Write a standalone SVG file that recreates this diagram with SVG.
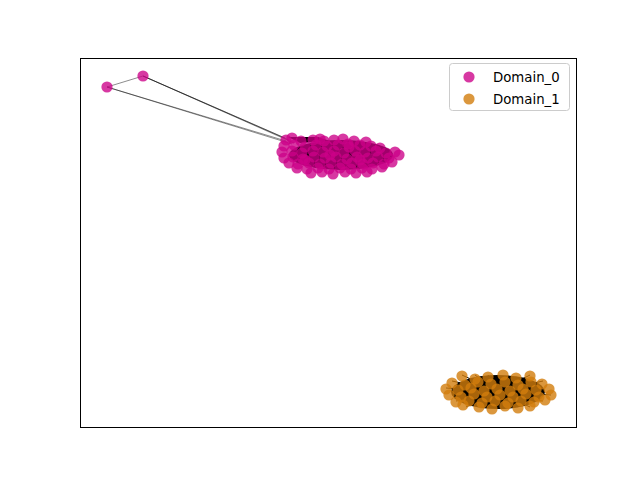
<svg xmlns="http://www.w3.org/2000/svg" xmlns:xlink="http://www.w3.org/1999/xlink" width="640" height="480" viewBox="0 0 640 480">
<style>
.d0{fill:#cc0088;fill-opacity:0.78}
.d1{fill:#d27d0c;fill-opacity:0.8}
.e{stroke:#000;stroke-opacity:0.45;stroke-width:1;fill:none}
.ed{stroke:#000;stroke-width:1;fill:none}
.t{font-family:"DejaVu Sans",sans-serif;font-size:13.3px;fill:#000}
</style>
<defs>
<circle id="a" r="5.6" class="d0"/>
<circle id="b" r="5.6" class="d1"/>
</defs>
<rect x="0" y="0" width="640" height="480" fill="#fff"/>
<g id="connectors">
<line class="e" x1="107" y1="87" x2="143" y2="76"/>
<line class="e" x1="107" y1="87" x2="286" y2="141"/>
<line class="e" x1="107" y1="87" x2="292" y2="144"/>
<line class="e" x1="143" y1="76" x2="285" y2="138"/>
<line class="e" x1="143" y1="76" x2="289" y2="140"/>
<line class="e" x1="143" y1="76" x2="294" y2="143"/>
<polygon points="288,137 318,137 330,141 300,143" fill="#000"/>
<ellipse cx="341" cy="155" rx="52" ry="15" fill="#000"/>
<ellipse cx="498" cy="392" rx="47" ry="17" fill="#000"/>
<path class="ed" d="M452 381L543 401M446 388L551 395M462 375L530 407M475 375L518 407M488 375L505 407M456 401L543 381M466 407L530 375"/>
</g>
<g id="domain0">
<use id="n0" href="#a" x="107" y="87"/>
<use id="n1" href="#a" x="143" y="76"/>
<use href="#a" x="286" y="140"/><use href="#a" x="292" y="138"/>
<use href="#a" x="301" y="141"/><use href="#a" x="313" y="140"/><use href="#a" x="324" y="141"/><use href="#a" x="334" y="140"/><use href="#a" x="343" y="139"/><use href="#a" x="354" y="141"/><use href="#a" x="366" y="142"/>
<use href="#a" x="284" y="146"/><use href="#a" x="294" y="145"/><use href="#a" x="305" y="147"/><use href="#a" x="316" y="145"/><use href="#a" x="327" y="146"/><use href="#a" x="338" y="145"/><use href="#a" x="349" y="147"/><use href="#a" x="360" y="145"/><use href="#a" x="371" y="146"/><use href="#a" x="380" y="148"/>
<use href="#a" x="282" y="152"/><use href="#a" x="292" y="151"/><use href="#a" x="302" y="153"/><use href="#a" x="313" y="151"/><use href="#a" x="323" y="152"/><use href="#a" x="334" y="151"/><use href="#a" x="344" y="153"/><use href="#a" x="355" y="151"/><use href="#a" x="365" y="152"/><use href="#a" x="376" y="151"/><use href="#a" x="386" y="153"/><use href="#a" x="395" y="152"/>
<use href="#a" x="284" y="158"/><use href="#a" x="293" y="157"/><use href="#a" x="303" y="159"/><use href="#a" x="314" y="157"/><use href="#a" x="325" y="158"/><use href="#a" x="336" y="157"/><use href="#a" x="347" y="159"/><use href="#a" x="357" y="157"/><use href="#a" x="368" y="158"/><use href="#a" x="378" y="157"/><use href="#a" x="389" y="158"/><use href="#a" x="399" y="155"/>
<use href="#a" x="289" y="163"/><use href="#a" x="298" y="164"/><use href="#a" x="309" y="163"/><use href="#a" x="320" y="164"/><use href="#a" x="331" y="163"/><use href="#a" x="342" y="164"/><use href="#a" x="352" y="163"/><use href="#a" x="363" y="164"/><use href="#a" x="373" y="163"/><use href="#a" x="384" y="164"/><use href="#a" x="392" y="162"/>
<use href="#a" x="297" y="168"/><use href="#a" x="307" y="169"/><use href="#a" x="318" y="168"/><use href="#a" x="329" y="169"/><use href="#a" x="340" y="168"/><use href="#a" x="351" y="169"/><use href="#a" x="362" y="168"/><use href="#a" x="372" y="169"/><use href="#a" x="382" y="167"/>
<use href="#a" x="311" y="173"/><use href="#a" x="322" y="172"/><use href="#a" x="333" y="174"/><use href="#a" x="345" y="172"/><use href="#a" x="356" y="173"/><use href="#a" x="367" y="172"/>
<use href="#a" x="320" y="139"/><use href="#a" x="348" y="144"/><use href="#a" x="330" y="155"/><use href="#a" x="360" y="160"/><use href="#a" x="305" y="160"/>
</g>
<g id="domain1">
<use href="#b" x="462" y="376"/><use href="#b" x="475" y="379"/><use href="#b" x="488" y="377"/><use href="#b" x="503" y="375"/><use href="#b" x="516" y="378"/><use href="#b" x="530" y="376"/>
<use href="#b" x="452" y="383"/><use href="#b" x="465" y="385"/><use href="#b" x="478" y="382"/><use href="#b" x="491" y="384"/><use href="#b" x="505" y="382"/><use href="#b" x="518" y="385"/><use href="#b" x="531" y="382"/><use href="#b" x="542" y="384"/>
<use href="#b" x="446" y="389"/><use href="#b" x="458" y="390"/><use href="#b" x="471" y="388"/><use href="#b" x="484" y="391"/><use href="#b" x="497" y="389"/><use href="#b" x="510" y="391"/><use href="#b" x="523" y="389"/><use href="#b" x="536" y="390"/><use href="#b" x="549" y="389"/>
<use href="#b" x="449" y="395"/><use href="#b" x="461" y="397"/><use href="#b" x="474" y="394"/><use href="#b" x="487" y="397"/><use href="#b" x="500" y="395"/><use href="#b" x="513" y="397"/><use href="#b" x="526" y="394"/><use href="#b" x="539" y="397"/><use href="#b" x="551" y="395"/>
<use href="#b" x="456" y="402"/><use href="#b" x="469" y="401"/><use href="#b" x="482" y="403"/><use href="#b" x="495" y="401"/><use href="#b" x="508" y="403"/><use href="#b" x="521" y="401"/><use href="#b" x="534" y="402"/><use href="#b" x="545" y="400"/>
<use href="#b" x="463" y="405"/><use href="#b" x="479" y="407"/><use href="#b" x="492" y="409"/><use href="#b" x="505" y="406"/><use href="#b" x="518" y="408"/><use href="#b" x="530" y="406"/>
</g>
<rect id="frame" x="80.5" y="58.5" width="496" height="369" fill="none" stroke="#000" stroke-width="1"/>
<g id="legend">
<rect x="449.5" y="63.5" width="120" height="47" rx="3" fill="#fff" fill-opacity="0.8" stroke="#ccc" stroke-width="1"/>
<circle cx="469" cy="77" r="5.6" class="d0"/>
<text class="t" x="493" y="82">Domain_0</text>
<circle cx="469" cy="99" r="5.6" class="d1"/>
<text class="t" x="493" y="104">Domain_1</text>
</g>
</svg>
